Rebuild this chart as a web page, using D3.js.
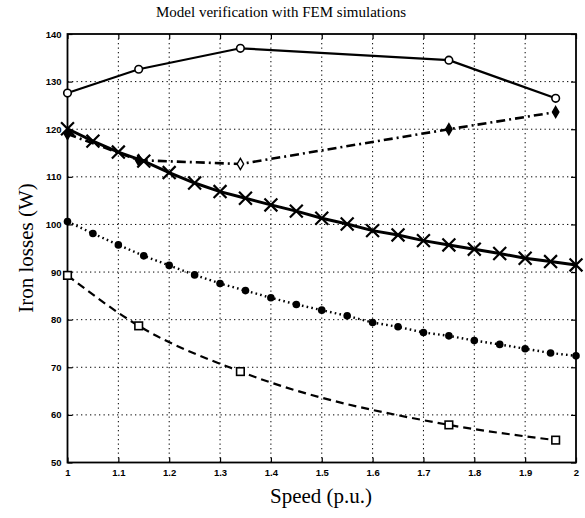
<!DOCTYPE html>
<html>
<head>
<meta charset="utf-8">
<script src="https://cdn.jsdelivr.net/npm/d3@7"></script>
<style>
html,body{margin:0;padding:0;background:#fff;}
svg{display:block;}
</style>
</head>
<body>
<svg id="chart" width="585" height="518"></svg>
<script>
// ---- data ----
const xTicks = [1, 1.1, 1.2, 1.3, 1.4, 1.5, 1.6, 1.7, 1.8, 1.9, 2];
const xTickLabels = ["1", "1.1", "1.2", "1.3", "1.4", "1.5", "1.6", "1.7", "1.8", "1.9", "2"];
const yTicks = [50, 60, 70, 80, 90, 100, 110, 120, 130, 140];
const yTickLabels = ["50", "60", "70", "80", "90", "100", "110", "120", "130", "140"];

const speedSparse = [1.0, 1.14, 1.34, 1.75, 1.96];
const circleSeries = [127.6, 132.6, 137.0, 134.5, 126.5];
const diamondSeries = [119.0, 113.5, 112.7, 120.0, 123.6];
const squareSeries = [89.3, 78.7, 69.1, 57.9, 54.7];

const speedDense = [1.0, 1.05, 1.1, 1.15, 1.2, 1.25, 1.3, 1.35, 1.4, 1.45, 1.5,
                    1.55, 1.6, 1.65, 1.7, 1.75, 1.8, 1.85, 1.9, 1.95, 2.0];
const crossSeries = [120.1, 117.5, 115.2, 113.3, 110.9, 108.7, 106.9, 105.5, 104.1, 102.8, 101.3,
                     100.1, 98.7, 97.8, 96.6, 95.7, 94.8, 93.9, 92.9, 92.2, 91.5];
const dotSeries = [100.6, 98.1, 95.7, 93.4, 91.4, 89.4, 87.6, 86.1, 84.6, 83.2, 82.0,
                   80.8, 79.4, 78.5, 77.3, 76.6, 75.6, 74.8, 73.9, 73.0, 72.4];

const title = "Model verification with FEM simulations";
const xLabel = "Speed (p.u.)";
const yLabel = "Iron losses (W)";

// ---- layout ----
const svg = d3.select("#chart");
const L = 67.5, R = 576, T = 34, B = 462.5;
const x = d3.scaleLinear().domain([1, 2]).range([L, R]);
const y = d3.scaleLinear().domain([50, 140]).range([B, T]);

// grid
const grid = svg.append("g");
grid.selectAll("line.vx").data(xTicks.slice(1, -1)).enter().append("line")
  .attr("x1", d => x(d)).attr("x2", d => x(d)).attr("y1", T).attr("y2", B)
  .attr("stroke", "#000").attr("stroke-width", 1).attr("stroke-dasharray", "1.3,3.2");
grid.selectAll("line.hy").data(yTicks.slice(1, -1)).enter().append("line")
  .attr("x1", L).attr("x2", R).attr("y1", d => y(d)).attr("y2", d => y(d))
  .attr("stroke", "#000").attr("stroke-width", 1).attr("stroke-dasharray", "1.3,3.2");

// axes
const xAxis = d3.axisBottom(x).tickValues(xTicks).tickSize(-5).tickPadding(7)
  .tickFormat((d, i) => xTickLabels[i]);
const yAxis = d3.axisLeft(y).tickValues(yTicks).tickSize(-5).tickPadding(6)
  .tickFormat((d, i) => yTickLabels[i]);
const gx = svg.append("g").attr("transform", `translate(0,${B})`).call(xAxis);
const gy = svg.append("g").attr("transform", `translate(${L},0)`).call(yAxis);
svg.append("g").attr("transform", `translate(0,${T})`)
  .call(d3.axisTop(x).tickValues(xTicks).tickSize(-5).tickFormat(""));
svg.append("g").attr("transform", `translate(${R},0)`)
  .call(d3.axisRight(y).tickValues(yTicks).tickSize(-5).tickFormat(""));
svg.selectAll(".domain").remove();
svg.selectAll(".tick line").attr("stroke", "#000").attr("stroke-width", 1.2);
[gx, gy].forEach(g => g.selectAll("text")
  .attr("font-family", "'Liberation Sans', Arial, sans-serif")
  .attr("font-weight", "bold").attr("font-size", 9.5).attr("fill", "#000"));

// frame
svg.append("rect").attr("x", L).attr("y", T).attr("width", R - L).attr("height", B - T)
  .attr("fill", "none").attr("stroke", "#000").attr("stroke-width", 1.8);

// ---- series ----
const lineGen = (xs) => d3.line().x((d, i) => x(xs[i])).y(d => y(d));

// circles solid
svg.append("path").datum(circleSeries).attr("d", lineGen(speedSparse))
  .attr("fill", "none").attr("stroke", "#000").attr("stroke-width", 2.2);
svg.selectAll("circle.c1").data(circleSeries).enter().append("circle")
  .attr("cx", (d, i) => x(speedSparse[i])).attr("cy", d => y(d)).attr("r", 3.8)
  .attr("fill", "#fff").attr("stroke", "#000").attr("stroke-width", 1.6);

// diamonds dash-dot
svg.append("path").datum(diamondSeries).attr("d", lineGen(speedSparse))
  .attr("fill", "none").attr("stroke", "#000").attr("stroke-width", 2.6)
  .attr("stroke-dasharray", "9,4,2,4");
svg.selectAll("path.dm").data(diamondSeries).enter().append("path")
  .attr("d", d3.symbol().type(d3.symbolDiamond).size(36))
  .attr("transform", (d, i) => `translate(${x(speedSparse[i])},${y(d)})`)
  .attr("fill", (d, i) => (i === 2 ? "#fff" : "#000")).attr("stroke", "#000").attr("stroke-width", 1.4);

// crosses thick solid
svg.append("path").datum(crossSeries).attr("d", lineGen(speedDense))
  .attr("fill", "none").attr("stroke", "#000").attr("stroke-width", 3);
svg.selectAll("path.cx").data(crossSeries).enter().append("path")
  .attr("d", d3.symbol().type(d3.symbolX).size(110))
  .attr("transform", (d, i) => `translate(${x(speedDense[i])},${y(d)})`)
  .attr("fill", "none").attr("stroke", "#000").attr("stroke-width", 2.2);

// dotted with filled circles
svg.append("path").datum(dotSeries).attr("d", lineGen(speedDense))
  .attr("fill", "none").attr("stroke", "#000").attr("stroke-width", 2.4)
  .attr("stroke-dasharray", "1.6,3.2");
svg.selectAll("circle.c2").data(dotSeries).enter().append("circle")
  .attr("cx", (d, i) => x(speedDense[i])).attr("cy", d => y(d)).attr("r", 3.8)
  .attr("fill", "#000");

// dashed with squares
svg.append("path").datum(squareSeries).attr("d", d3.line().curve(d3.curveMonotoneX)
    .x((d, i) => x(speedSparse[i])).y(d => y(d)))
  .attr("fill", "none").attr("stroke", "#000").attr("stroke-width", 2.2)
  .attr("stroke-dasharray", "8,5");
svg.selectAll("rect.sq").data(squareSeries).enter().append("rect")
  .attr("x", (d, i) => x(speedSparse[i]) - 3.8).attr("y", d => y(d) - 3.8)
  .attr("width", 7.6).attr("height", 7.6)
  .attr("fill", "#fff").attr("stroke", "#000").attr("stroke-width", 1.6);

// ---- texts ----
svg.append("text").attr("x", 281).attr("y", 17).attr("text-anchor", "middle")
  .attr("font-family", "'Liberation Serif', 'Times New Roman', serif").attr("font-size", 15)
  .text(title);
svg.append("text").attr("x", 321).attr("y", 503).attr("text-anchor", "middle")
  .attr("font-family", "'Liberation Serif', 'Times New Roman', serif").attr("font-size", 21)
  .text(xLabel);
svg.append("text").attr("transform", "translate(33,248) rotate(-90)").attr("text-anchor", "middle")
  .attr("font-family", "'Liberation Serif', 'Times New Roman', serif").attr("font-size", 21)
  .text(yLabel);
</script>
</body>
</html>
